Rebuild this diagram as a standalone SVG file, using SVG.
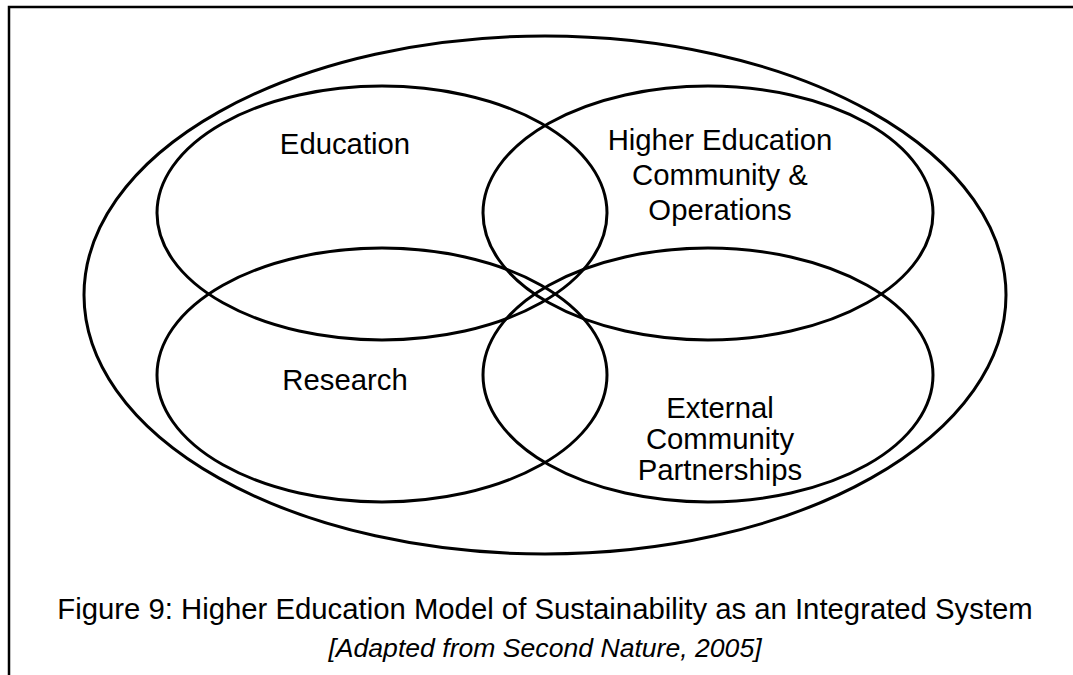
<svg xmlns="http://www.w3.org/2000/svg" width="1073" height="675" viewBox="0 0 1073 675">
<style>
.e{fill:none;stroke:#000;stroke-width:3}
.t{font-family:"Liberation Sans",Arial,sans-serif;font-size:29.3px;fill:#000;text-anchor:middle}
.i{font-family:"Liberation Sans",Arial,sans-serif;font-size:26.6px;font-style:italic;fill:#000;text-anchor:middle}
</style>
<rect width="1073" height="675" fill="#fff"/>
<path d="M9,675 V7 H1073" fill="none" stroke="#000" stroke-width="2.5"/>
<g id="outer"><ellipse class="e" cx="545" cy="295" rx="461" ry="259"/></g>
<g id="education"><ellipse class="e" cx="382" cy="213" rx="225" ry="127"/><text class="t" x="345" y="154">Education</text></g>
<g id="community"><ellipse class="e" cx="708" cy="213" rx="225" ry="127"/><text class="t" x="720" y="150">Higher Education</text><text class="t" x="720" y="185">Community &amp;</text><text class="t" x="720" y="220">Operations</text></g>
<g id="research"><ellipse class="e" cx="382" cy="375" rx="225" ry="127"/><text class="t" x="345" y="390">Research</text></g>
<g id="external"><ellipse class="e" cx="708" cy="375" rx="225" ry="127"/><text class="t" x="720" y="418">External</text><text class="t" x="720" y="449">Community</text><text class="t" x="720" y="480">Partnerships</text></g>
<g id="connectors"></g>
<g id="caption"><text class="t" x="545" y="619">Figure 9: Higher Education Model of Sustainability as an Integrated System</text><text class="i" x="545" y="657">[Adapted from Second Nature, 2005]</text></g>
</svg>
